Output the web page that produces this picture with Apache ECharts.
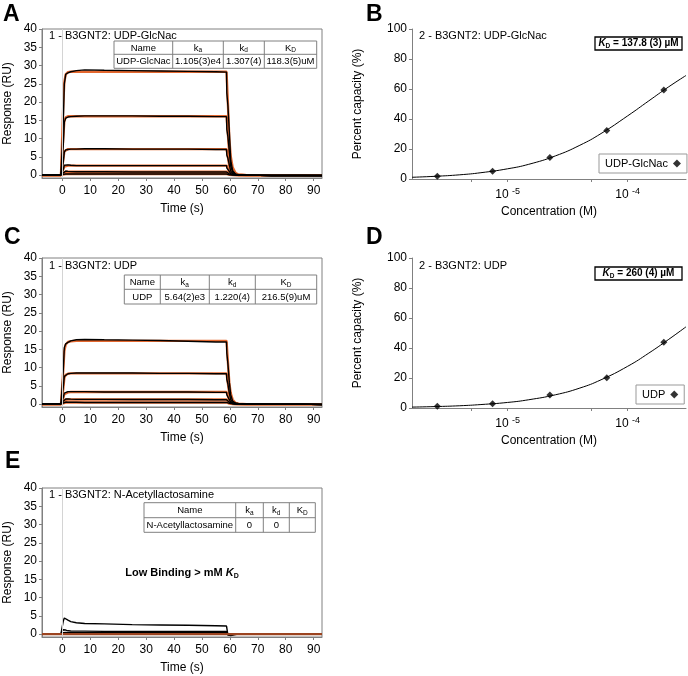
<!DOCTYPE html>
<html><head><meta charset="utf-8">
<script src="https://cdn.jsdelivr.net/npm/echarts@6/dist/echarts.min.js"></script>
<style>html,body{margin:0;padding:0;background:#fff}#c{width:688px;height:676px}</style>
</head><body><div id="c"></div>
<script>
const FONT = '"Liberation Sans", Arial, Helvetica, sans-serif';

// ---- sensorgram data (time in s, response in RU) ----
const timeS = [-7.3, -0.5, 0, 0.3, 0.7, 1.2, 2, 3, 5, 8, 15, 25, 35, 45, 55, 58.8, 58.9, 59.3, 59.8, 60.3, 61, 62, 63, 66, 75, 85, 93];
const timeTicks = [0, 10, 20, 30, 40, 50, 60, 70, 80, 90];
const respTicks = [0, 5, 10, 15, 20, 25, 30, 35, 40];

// Panel A: UDP-GlcNac
const aData1 = [0.1,0.1,0.3,14,25,27.6,28.0,28.3,28.6,28.8,28.7,28.6,28.5,28.4,28.3,28.2,22.5,19,12,4,1.2,0.3,0.1,0,-0.1,-0.1,-0.2];
const aData2 = [0.1,0.1,0.2,8,14.5,15.6,15.9,16.0,16.1,16.2,16.2,16.2,16.1,16.1,16.0,16.0,12.5,10.5,6.5,2.5,0.8,0.2,0.1,0,-0.1,-0.1,-0.1];
const aData3 = [0.1,0.1,0.2,3.5,6.3,6.9,7.0,7.1,7.1,7.2,7.2,7.1,7.1,7.1,7.0,7.0,5.5,4.6,2.8,1.1,0.4,0.1,0,0,-0.1,-0.1,-0.1];
const aData4 = [0.1,0.1,0.1,1.5,2.7,2.9,2.8,2.7,2.6,2.6,2.6,2.6,2.6,2.6,2.6,2.6,2.0,1.7,1.0,0.4,0.2,0.1,0,0,-0.1,-0.1,-0.1];
const aData5 = [0.1,0.1,0.1,0.6,1.1,1.1,1.0,0.95,0.9,0.9,0.9,0.85,0.85,0.85,0.85,0.85,0.7,0.6,0.35,0.15,0.05,0,0,0,-0.1,-0.1,-0.1];
const aData6 = [0.05,0.05,0.05,0.2,0.3,0.3,0.3,0.3,0.3,0.3,0.3,0.3,0.3,0.3,0.3,0.3,0.25,0.2,0.1,0.05,0,0,0,0,-0.1,-0.1,-0.1];
const aFit1 = [0,0,0,19,25.5,27.6,28.2,28.3,28.3,28.3,28.3,28.3,28.3,28.3,28.3,28.3,28.3,19.5,10,5.2,2.1,0.6,0.15,0,0,0,0];
const aFit2 = [0,0,0,10,14.8,15.8,16.1,16.1,16.1,16.1,16.1,16.1,16.1,16.1,16.1,16.1,16.1,11.1,5.7,3.0,1.2,0.35,0.1,0,0,0,0];
const aFit3 = [0,0,0,4,6.5,7.0,7.1,7.1,7.1,7.1,7.1,7.1,7.1,7.1,7.1,7.1,7.1,4.9,2.5,1.3,0.5,0.15,0.04,0,0,0,0];
const aFit4 = [0,0,0,1.5,2.3,2.55,2.6,2.6,2.6,2.6,2.6,2.6,2.6,2.6,2.6,2.6,2.6,1.8,0.9,0.5,0.2,0.05,0,0,0,0,0];
const aFit5 = [0,0,0,0.5,0.8,0.88,0.9,0.9,0.9,0.9,0.9,0.9,0.9,0.9,0.9,0.9,0.9,0.6,0.3,0.16,0.06,0.02,0,0,0,0,0];
const aFit6 = [0,0,0,0.15,0.25,0.28,0.3,0.3,0.3,0.3,0.3,0.3,0.3,0.3,0.3,0.3,0.3,0.2,0.1,0.05,0.02,0,0,0,0,0,0];

// Panel C: UDP
const cData1 = [0.1,0.1,0.2,9,15.5,16.5,16.9,17.3,17.6,17.7,17.6,17.5,17.4,17.2,17.0,17.0,14,11,6,2.5,0.8,0.3,0.2,0.1,0,0,-0.1];
const cData2 = [0.1,0.1,0.2,4.5,7.6,8.1,8.3,8.4,8.5,8.5,8.5,8.5,8.4,8.4,8.3,8.3,6.8,5.5,3,1.2,0.4,0.2,0.1,0.1,0,0,-0.1];
const cData3 = [0.1,0.1,0.1,1.8,3.0,3.3,3.4,3.4,3.4,3.4,3.3,3.3,3.3,3.3,3.2,3.2,2.6,2.1,1.2,0.5,0.2,0.1,0.05,0,0,0,-0.1];
const cData4 = [0.1,0.1,0.1,0.8,1.3,1.4,1.4,1.35,1.3,1.3,1.3,1.25,1.25,1.25,1.2,1.2,1.0,0.8,0.5,0.2,0.1,0,0,0,0,0,-0.1];
const cData5 = [0.05,0.05,0.05,0.3,0.5,0.55,0.5,0.5,0.5,0.45,0.45,0.45,0.45,0.45,0.45,0.45,0.35,0.3,0.2,0.1,0.05,0,0,0,0,0,-0.1];
const cFit1 = [0,0,0,9,14.5,16.3,17.0,17.2,17.3,17.3,17.3,17.3,17.3,17.3,17.3,17.3,17.3,11.5,5.8,3.0,1.2,0.35,0.1,0,0,0,0];
const cFit2 = [0,0,0,4,7.2,8.0,8.3,8.4,8.4,8.4,8.4,8.4,8.4,8.4,8.4,8.4,8.4,5.6,2.8,1.5,0.6,0.17,0.05,0,0,0,0];
const cFit3 = [0,0,0,1.5,2.7,3.1,3.2,3.3,3.3,3.3,3.3,3.3,3.3,3.3,3.3,3.3,3.3,2.2,1.1,0.6,0.24,0.07,0.02,0,0,0,0];
const cFit4 = [0,0,0,0.6,1.05,1.2,1.25,1.25,1.25,1.25,1.25,1.25,1.25,1.25,1.25,1.25,1.25,0.85,0.43,0.22,0.09,0.03,0.01,0,0,0,0];
const cFit5 = [0,0,0,0.2,0.38,0.43,0.45,0.45,0.45,0.45,0.45,0.45,0.45,0.45,0.45,0.45,0.45,0.3,0.15,0.08,0.03,0.01,0,0,0,0,0];

// Panel E: N-Acetyllactosamine
const eData1 = [0.1,0.1,0.3,3.5,4.4,4.2,3.8,3.4,3.1,2.9,2.8,2.6,2.5,2.4,2.3,2.2,2.2,-0.3,-0.5,-0.4,-0.2,-0.1,0,0,0,0.1,0.1];
const eData2 = [0.1,0.1,0.2,1.2,1.3,1.1,0.9,0.85,0.8,0.8,0.75,0.75,0.7,0.7,0.7,0.7,0.7,-0.2,-0.3,-0.2,-0.1,0,0,0,0,0.1,0.1];
const eData3 = [0.05,0.05,0.1,0.4,0.5,0.45,0.4,0.4,0.4,0.4,0.4,0.4,0.4,0.35,0.35,0.35,0.35,-0.1,-0.2,-0.1,0,0,0,0,0,0,0.1];
const eData4 = [0,0,0.05,0.15,0.2,0.2,0.2,0.15,0.15,0.15,0.15,0.15,0.15,0.15,0.15,0.15,0.15,-0.05,-0.1,-0.05,0,0,0,0,0,0,0];
const eFit1 = [0,0,0,0,0,0,0,0,0,0,0,0,0,0,0,0,0,0,0,0,0,0,0,0,0,0,0];

// ---- steady-state affinity data (concentration in M, percent capacity) ----
const concPoints = [2.6e-6, 7.5e-6, 2.25e-5, 6.7e-5, 2.0e-4];
const bPercent = [1.8, 5.2, 14.3, 32.4, 59.3];
const dPercent = [1.2, 2.8, 8.6, 20.2, 43.8];
const curveConc = [1.6e-6, 2.5e-6, 4e-6, 6e-6, 1e-5, 1.5e-5, 2.5e-5, 4e-5, 6e-5, 1e-4, 1.5e-4, 2.2e-4, 3.06e-4];
const bCurve = [1.15, 1.8, 2.8, 4.2, 6.8, 9.8, 15.4, 22.5, 30.3, 42.1, 52.1, 61.5, 69.0];
const dCurve = [0.6, 0.95, 1.5, 2.3, 3.7, 5.5, 8.8, 13.3, 18.8, 27.8, 36.6, 45.8, 54.1];
const concTicks = [5e-6, 1e-5, 5e-5, 1e-4];
const concLabels = [1e-5, 1e-4];

// ---- texts ----
const tableAHeader = ['Name', '{n|k}{s|a}', '{n|k}{s|d}', '{n|K}{s|D}'];
const tableARow = ['UDP-GlcNac', '1.105(3)e4', '1.307(4)', '118.3(5)uM'];
const tableCRow = ['UDP', '5.64(2)e3', '1.220(4)', '216.5(9)uM'];
const tableERow = ['N-Acetyllactosamine', '0', '0', ''];

const GRAY = '#808080';
const ORANGE = '#E4682F';

const grids = [
  {left: 42, top: 29, width: 280, height: 149, show: true, borderColor: GRAY, borderWidth: 1},
  {left: 412, top: 29, width: 274, height: 150},
  {left: 42, top: 258, width: 280, height: 149, show: true, borderColor: GRAY, borderWidth: 1},
  {left: 412, top: 258, width: 274, height: 150},
  {left: 42, top: 488, width: 280, height: 149, show: true, borderColor: GRAY, borderWidth: 1}
];

const axisTxt = {fontSize: 12, color: '#000', fontFamily: FONT};

function timeAxis(gi) {
  return {type: 'value', gridIndex: gi, min: -7.3, max: 93,
    name: 'Time (s)', nameLocation: 'middle', nameGap: 25, nameTextStyle: axisTxt,
    axisLine: {show: true, onZero: false, lineStyle: {color: GRAY, width: 1}},
    axisTick: {show: true, length: 3, customValues: timeTicks, lineStyle: {color: GRAY}},
    axisLabel: Object.assign({customValues: timeTicks, margin: 7}, axisTxt),
    splitLine: {show: false}};
}
function respAxis(gi) {
  return {type: 'value', gridIndex: gi, min: -0.8, max: 40,
    name: 'Response (RU)', nameLocation: 'middle', nameGap: 28, nameTextStyle: axisTxt,
    axisLine: {show: true, onZero: false, lineStyle: {color: GRAY, width: 1}},
    axisTick: {show: true, length: 3, customValues: respTicks, lineStyle: {color: GRAY}},
    axisLabel: Object.assign({customValues: respTicks, margin: 5}, axisTxt),
    splitLine: {show: false}};
}
function concAxis(gi) {
  return {type: 'log', logBase: 10, gridIndex: gi, min: 1.6e-6, max: 3.06e-4,
    name: 'Concentration (M)', nameLocation: 'middle', nameGap: 27, nameTextStyle: axisTxt,
    axisLine: {show: true, onZero: false, lineStyle: {color: GRAY, width: 1}},
    axisTick: {show: true, length: 3, customValues: concTicks, lineStyle: {color: GRAY}},
    axisLabel: {customValues: concLabels, margin: 8,
      formatter: v => '{b|10 }{s|' + Math.round(Math.log10(v)) + '}',
      rich: {b: {fontSize: 12, lineHeight: 16, color: '#000', fontFamily: FONT},
             s: {fontSize: 9, lineHeight: 9, verticalAlign: 'top', color: '#000', fontFamily: FONT}}},
    splitLine: {show: false}};
}
function pctAxis(gi) {
  return {type: 'value', gridIndex: gi, min: 0, max: 100, interval: 20,
    name: 'Percent capacity (%)', nameLocation: 'middle', nameGap: 48, nameTextStyle: axisTxt,
    axisLine: {show: true, onZero: false, lineStyle: {color: GRAY, width: 1}},
    axisTick: {show: true, length: 3, lineStyle: {color: GRAY}},
    axisLabel: Object.assign({margin: 5}, axisTxt),
    splitLine: {show: false}};
}

const xAxes = [timeAxis(0), concAxis(1), timeAxis(2), concAxis(3), timeAxis(4)];
const yAxes = [respAxis(0), pctAxis(1), respAxis(2), pctAxis(3), respAxis(4)];

const series = [];
function addSensor(gi, tag, dataSets, fitSets, fitColor, fitOnTop) {
  const vline = {silent: true, symbol: 'none', label: {show: false},
    lineStyle: {color: '#d4d4d4', width: 1, type: 'solid'}, data: [{xAxis: 0}]};
  const mk = (vals, name, color, width, z) => ({
    type: 'line', name: name, xAxisIndex: gi, yAxisIndex: gi, showSymbol: false, symbol: 'none',
    data: timeS.map((t, i) => [t, vals[i]]), lineStyle: {color: color, width: width},
    itemStyle: {color: color}, z: z, animation: false
  });
  const first = mk(dataSets[0], tag + ' data 1', '#000', 1.4, 3);
  first.markLine = vline;
  fitSets.forEach((v, i) => series.push(mk(v, tag + ' fit ' + (i + 1), fitColor, 2.4, fitOnTop ? 4 : 2)));
  series.push(first);
  dataSets.slice(1).forEach((v, i) => series.push(mk(v, tag + ' data ' + (i + 2), '#000', 1.4, 3)));
}
addSensor(0, 'A', [aData1, aData2, aData3, aData4, aData5, aData6], [aFit1, aFit2, aFit3, aFit4, aFit5, aFit6], ORANGE, false);
addSensor(2, 'C', [cData1, cData2, cData3, cData4, cData5], [cFit1, cFit2, cFit3, cFit4, cFit5], ORANGE, false);
addSensor(4, 'E', [eData1, eData2, eData3, eData4], [eFit1], '#9C4420', true);

function addAffinity(gi, name, pct, curve) {
  series.push({type: 'line', name: name + ' fit', xAxisIndex: gi, yAxisIndex: gi, smooth: true,
    showSymbol: false, symbol: 'none', data: curveConc.map((c, i) => [c, curve[i]]),
    lineStyle: {color: '#000', width: 1}, itemStyle: {color: '#000'}, z: 2, animation: false});
  series.push({type: 'scatter', name: name, xAxisIndex: gi, yAxisIndex: gi, symbol: 'diamond',
    symbolSize: 7, data: concPoints.map((c, i) => [c, pct[i]]), itemStyle: {color: '#000'}, z: 3, animation: false});
}
addAffinity(1, 'UDP-GlcNac', bPercent, bCurve);
addAffinity(3, 'UDP', dPercent, dCurve);

const legendBase = {orient: 'horizontal', align: 'right', icon: 'diamond', itemWidth: 8, itemHeight: 8,
  padding: [4, 6], borderColor: '#999', borderWidth: 1, borderRadius: 0, selectedMode: false,
  textStyle: {fontSize: 11, color: '#000', fontFamily: FONT}};
const legends = [
  Object.assign({data: ['UDP-GlcNac'], left: 599, top: 154}, legendBase),
  Object.assign({data: ['UDP'], left: 636, top: 385}, legendBase)
];

// ---- graphic overlays: panel letters, titles, tables, KD boxes ----
const G = [];
function txt(x, y, text, opts) {
  G.push({type: 'text', z: 60, silent: true, style: Object.assign({x: x, y: y, text: text, fill: '#000',
    fontFamily: FONT, fontSize: 11, align: 'left', verticalAlign: 'middle',
    textAlign: 'left', textVerticalAlign: 'middle'}, opts || {})});
}
const subRich = {n: {fontSize: 9.5, lineHeight: 12, fontFamily: FONT, fill: '#000', color: '#000'},
                 s: {fontSize: 6.5, lineHeight: 7, verticalAlign: 'bottom', fontFamily: FONT, fill: '#000', color: '#000'}};
function table(cols, rows, header, row) {
  const x0 = cols[0], x1 = cols[cols.length - 1];
  G.push({type: 'rect', z: 55, silent: true, shape: {x: x0, y: rows[0], width: x1 - x0, height: rows[2] - rows[0]},
    style: {fill: '#fff', stroke: GRAY, lineWidth: 1}});
  G.push({type: 'line', z: 56, silent: true, shape: {x1: x0, y1: rows[1], x2: x1, y2: rows[1]}, style: {stroke: GRAY, lineWidth: 1}});
  for (let i = 1; i < cols.length - 1; i++)
    G.push({type: 'line', z: 56, silent: true, shape: {x1: cols[i], y1: rows[0], x2: cols[i], y2: rows[2]}, style: {stroke: GRAY, lineWidth: 1}});
  header.forEach((h, i) => txt((cols[i] + cols[i + 1]) / 2, (rows[0] + rows[1]) / 2 + 0.5, h,
    {align: 'center', textAlign: 'center', fontSize: 9.5, rich: subRich}));
  row.forEach((h, i) => txt((cols[i] + cols[i + 1]) / 2, (rows[1] + rows[2]) / 2 + 0.5, h,
    {align: 'center', textAlign: 'center', fontSize: 9.5}));
}
function kdBox(x, y, w, h, value) {
  G.push({type: 'rect', z: 55, silent: true, shape: {x: x, y: y, width: w, height: h},
    style: {fill: '#fff', stroke: '#000', lineWidth: 1.3}});
  txt(x + w / 2, y + h / 2, '{k|K}{d|D}{t| = ' + value + '}', {align: 'center', textAlign: 'center',
    rich: {k: {fontSize: 10, fontWeight: 'bold', fontStyle: 'italic', lineHeight: 12, fontFamily: FONT, color: '#000'},
           d: {fontSize: 6.5, fontWeight: 'bold', lineHeight: 7, verticalAlign: 'bottom', fontFamily: FONT, color: '#000'},
           t: {fontSize: 10, fontWeight: 'bold', lineHeight: 12, fontFamily: FONT, color: '#000'}}});
}

const letterOpt = {fontSize: 23, fontWeight: 'bold', verticalAlign: 'top', textVerticalAlign: 'top'};
txt(3, 3, 'A', letterOpt);
txt(366, 3, 'B', letterOpt);
txt(4, 226, 'C', letterOpt);
txt(366, 226, 'D', letterOpt);
txt(5, 450, 'E', letterOpt);

txt(49, 36, '1 - B3GNT2: UDP-GlcNac');
txt(419, 36, '2 - B3GNT2: UDP-GlcNac');
txt(49, 266, '1 - B3GNT2: UDP');
txt(419, 266, '2 - B3GNT2: UDP');
txt(49, 494.5, '1 - B3GNT2: N-Acetyllactosamine');

table([114, 172.7, 223.3, 264.3, 316.7], [41, 54.3, 68.3], tableAHeader, tableARow);
table([124.3, 160.3, 209.3, 255.3, 316.7], [275, 289.3, 304], tableAHeader, tableCRow);
table([144, 235.7, 263.3, 289.3, 315.3], [502.7, 517.7, 532.3], tableAHeader, tableERow);

kdBox(595, 37, 87, 13, '137.8 (3) µM');
kdBox(595, 267, 87, 13, '260 (4) µM');

txt(182, 573, '{t|Low Binding > mM }{k|K}{d|D}', {align: 'center', textAlign: 'center',
  rich: {t: {fontSize: 11, fontWeight: 'bold', lineHeight: 13, fontFamily: FONT, color: '#000'},
         k: {fontSize: 11, fontWeight: 'bold', fontStyle: 'italic', lineHeight: 13, fontFamily: FONT, color: '#000'},
         d: {fontSize: 7, fontWeight: 'bold', lineHeight: 7, verticalAlign: 'bottom', fontFamily: FONT, color: '#000'}}});

const chart = echarts.init(document.getElementById('c'), null, {renderer: 'canvas'});
chart.setOption({
  animation: false,
  backgroundColor: '#fff',
  textStyle: {fontFamily: FONT},
  grid: grids,
  xAxis: xAxes,
  yAxis: yAxes,
  legend: legends,
  series: series,
  graphic: G
});
</script></body></html>
